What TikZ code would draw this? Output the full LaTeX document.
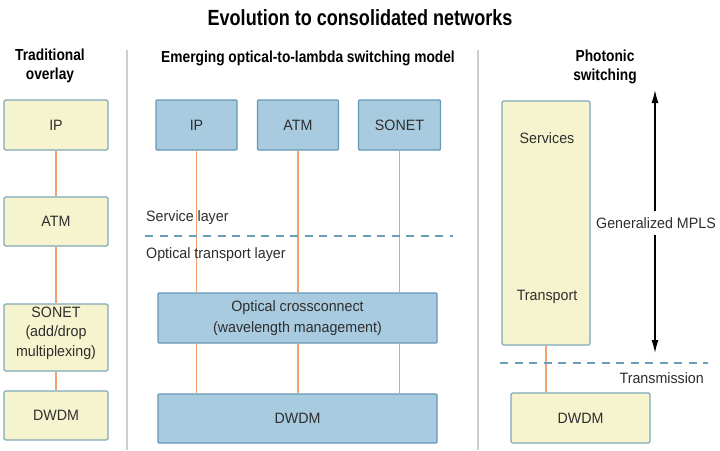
\documentclass[tikz,border=0pt]{standalone}
\usepackage{fontspec}
\setmainfont{Liberation Sans}[FakeStretch=0.95]
\newfontfamily\titlefont{Liberation Sans}[FakeStretch=0.82]
\newfontfamily\hdrfont{Liberation Sans}[FakeStretch=0.86]
\usetikzlibrary{arrows.meta}
\definecolor{ylwfill}{HTML}{F6F4CE}
\definecolor{ylwdraw}{HTML}{7FA8BA}
\definecolor{bluefill}{HTML}{A8CBE0}
\definecolor{bluedraw}{HTML}{6898B5}
\definecolor{linkcol}{HTML}{F2A070}
\definecolor{dashcol}{HTML}{6A9FB8}
\definecolor{divcol}{HTML}{C8D0D6}
\definecolor{txtcol}{HTML}{2E2E2E}
\tikzset{
  x=1pt, y=-1pt,
  every node/.style={text=txtcol, font=\fontsize{15}{19.5}\selectfont, inner sep=0pt},
  ybox/.style={draw=ylwdraw, fill=ylwfill, line width=1.2pt, rounded corners=1.5pt, align=center},
  bbox/.style={draw=bluedraw, fill=bluefill, line width=1.2pt, rounded corners=1pt, align=center},
  link/.style={draw=linkcol, line width=1.8pt},
  layerline/.style={draw=dashcol, line width=1.6pt, dash pattern=on 8pt off 6.5pt},
  divider/.style={draw=divcol, line width=2pt},
  hdr/.style={font=\hdrfont\bfseries\fontsize{16}{18.5}\selectfont, align=center, text=black},
  lbl/.style={font=\fontsize{15}{18}\selectfont}
}
\begin{document}
\begin{tikzpicture}
\useasboundingbox[fill=white] (0,0) rectangle (720,450);
% title and headers
\node[font=\titlefont\bfseries\fontsize{22}{24}\selectfont, text=black] (title) at (360,18) {Evolution to consolidated networks};
\node[hdr] (h1) at (50,66) {Traditional\\overlay};
\node[hdr] (h2) at (308,58) {Emerging optical-to-lambda switching model};
\node[hdr] (h3) at (605,67) {Photonic\\switching};
% dividers
\coordinate (d1a) at (127,50); \coordinate (d1b) at (127,450);
\coordinate (d2a) at (478,50); \coordinate (d2b) at (478,450);
\draw[divider] (d1a) -- (d1b);
\draw[divider] (d2a) -- (d2b);
% left column
\node[ybox, minimum width=104pt, minimum height=50pt] (lip) at (56,125) {IP};
\node[ybox, minimum width=104pt, minimum height=49pt] (latm) at (56,221.5) {ATM};
\node[ybox, minimum width=104pt, minimum height=67pt, text depth=12pt] (lsonet) at (56,337.5) {SONET\\(add/drop\\multiplexing)};
\node[ybox, minimum width=104pt, minimum height=49pt] (ldwdm) at (56,415.5) {DWDM};
\draw[link] (lip.south) -- (latm.north);
\draw[link] (latm.south) -- (lsonet.north);
\draw[link] (lsonet.south) -- (ldwdm.north);
% middle column
\node[bbox, minimum width=81pt, minimum height=50pt] (mip) at (196.5,125) {IP};
\node[bbox, minimum width=81pt, minimum height=50pt] (matm) at (298,125) {ATM};
\node[bbox, minimum width=82pt, minimum height=50pt] (msonet) at (399.5,125) {SONET};
\node[bbox, minimum width=279pt, minimum height=50pt, font=\fontsize{15}{21}\selectfont] (oxc) at (297.5,318) {Optical crossconnect\\(wavelength management)};
\node[bbox, minimum width=279pt, minimum height=49pt] (mdwdm) at (297.5,418.5) {DWDM};
\draw[link] (mip.south) -- (mip.south |- oxc.north);
\draw[link] (matm.south) -- (matm.south |- oxc.north);
\draw[link] (msonet.south) -- (msonet.south |- oxc.north);
\draw[link] (mip.south |- oxc.south) -- (mip.south |- mdwdm.north);
\draw[link] (matm.south |- oxc.south) -- (matm.south |- mdwdm.north);
\draw[link] (msonet.south |- oxc.south) -- (msonet.south |- mdwdm.north);
\coordinate (ml1) at (145,236); \coordinate (ml2) at (453,236);
\draw[layerline] (ml1) -- (ml2);
\node[lbl, anchor=west] (svc) at (146,218) {Service layer};
\node[lbl, anchor=west] (otl) at (146,255) {Optical transport layer};
% right column
\node[ybox, minimum width=88pt, minimum height=244pt] (rbig) at (546,223) {};
\node[lbl] (rsvc) at (547,138) {Services};
\node[lbl] (rtrn) at (547,297) {Transport};
\node[ybox, minimum width=139pt, minimum height=50pt] (rdwdm) at (580.5,418) {DWDM};
\draw[link] (rbig.south) -- (rbig.south |- rdwdm.north);
\coordinate (rl1) at (500,363); \coordinate (rl2) at (708,363);
\draw[layerline] (rl1) -- (rl2);
\node[lbl, anchor=east] (trans) at (704,378) {Transmission};
\coordinate (atop) at (655,90); \coordinate (abot) at (655,353);
\node[lbl, fill=white, inner ysep=6pt, inner xsep=0pt] (gmpls) at (656,223) {Generalized MPLS};
\draw[line width=1.3pt, -{Latex[length=13pt,width=7pt]}] (gmpls.north -| atop) -- (atop);
\draw[line width=1.3pt, -{Latex[length=13pt,width=7pt]}] (gmpls.south -| atop) -- (abot);
\end{tikzpicture}
\end{document}
